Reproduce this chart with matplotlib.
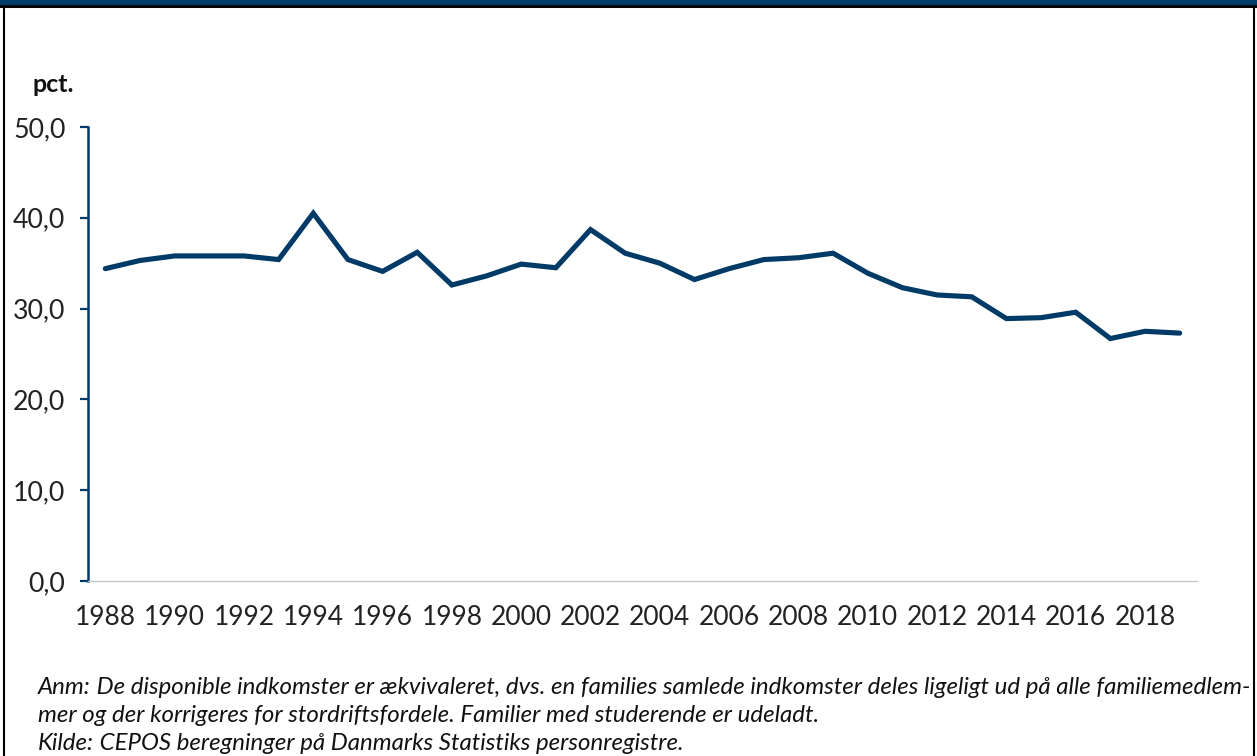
import matplotlib
matplotlib.use("Agg")
import matplotlib.pyplot as plt
from matplotlib.lines import Line2D
from matplotlib.patches import Rectangle

years = list(range(1988, 2020))
values = [34.4, 35.3, 35.8, 35.8, 35.8, 35.4, 40.5, 35.4, 34.1, 36.2,
          32.6, 33.6, 34.9, 34.5, 38.7, 36.1, 35.0, 33.2, 34.4, 35.4,
          35.6, 36.1, 33.9, 32.3, 31.5, 31.3, 28.9, 29.0, 29.6, 26.7,
          27.5, 27.3]
xticks = list(range(1988, 2019, 2))
yticks = [0, 10, 20, 30, 40, 50]
ylabels = ["0,0", "10,0", "20,0", "30,0", "40,0", "50,0"]
unit_label = "pct."
note_lines = [
    ("Anm:", " De disponible indkomster er ækvivaleret, dvs. en families samlede indkomster deles ligeligt ud på alle familiemedlem-"),
    ("", "mer og der korrigeres for stordriftsfordele. Familier med studerende er udeladt."),
    ("Kilde:", " CEPOS beregninger på Danmarks Statistiks personregistre."),
]

navy = "#003a66"
plt.rcParams["font.family"] = ["Lato", "DejaVu Sans"]

fig = plt.figure(figsize=(12.57, 7.56), dpi=100)
ax = fig.add_axes([88/1257, 1-581/756, (1197-88)/1257, (581-127)/756])

ax.plot(years, values, color=navy, lw=3.7, solid_joinstyle="miter", solid_capstyle="round")
ax.set_xlim(1987.5, 2019.5)
ax.set_ylim(0, 50)
ax.set_xticks(xticks)
ax.set_xticklabels([str(t) for t in xticks], fontsize=19, color="#222222")
ax.set_yticks(yticks)
ax.set_yticklabels(ylabels, fontsize=19.3, color="#222222")
ax.tick_params(axis="x", length=0, pad=17)
ax.tick_params(axis="y", length=5.8, width=1.6, color=navy, pad=10.5, direction="out")
for s in ["top", "right"]:
    ax.spines[s].set_visible(False)
ax.spines["left"].set_color(navy)
ax.spines["left"].set_linewidth(1.8)
ax.spines["bottom"].set_color("#c8c8c8")
ax.spines["bottom"].set_linewidth(1.0)

fig.text(32/1257, 1-85/756, unit_label, fontsize=18, fontweight="bold", va="center", ha="left", color="#111111")

# notes
ys = [688, 716, 743]
for (bold, rest), y in zip(note_lines, ys):
    x2 = 38
    if bold:
        t = fig.text(38/1257, 1-y/756, bold, fontsize=17.3, style="italic", va="center", ha="left", color="#111111")
        fig.canvas.draw()
        x2 = t.get_window_extent().x1
    fig.text(x2/1257, 1-y/756, rest, fontsize=17.3, style="italic", va="center", ha="left", color="#111111")

# frame: top band and borders
fig.patches.append(Rectangle((0, 1-4/756), 1, 4/756, transform=fig.transFigure, color=navy, zorder=5))
fig.lines.append(Line2D([0, 1], [1-5.5/756, 1-5.5/756], transform=fig.transFigure, color="black", lw=2.2))
fig.lines.append(Line2D([3.5/1257, 3.5/1257], [0, 1-5/756], transform=fig.transFigure, color="black", lw=1.5))
fig.lines.append(Line2D([1253.5/1257, 1253.5/1257], [0, 1-5/756], transform=fig.transFigure, color="black", lw=1.5))

fig.savefig("out.png", dpi=100)
